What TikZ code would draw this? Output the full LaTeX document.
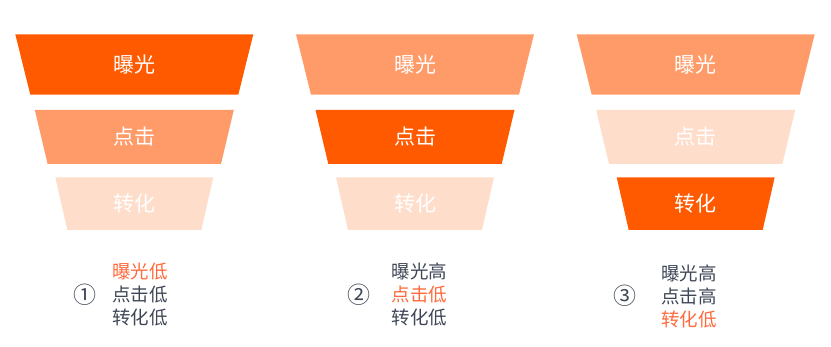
\documentclass[tikz,border=0pt]{standalone}
\usepackage{fontspec}
\newfontfamily\cjk{Noto Sans CJK SC}
\definecolor{deeporange}{HTML}{FF5A00}
\definecolor{midorange}{HTML}{FF9B68}
\definecolor{paleorange}{HTML}{FFDDCB}
\definecolor{hilite}{HTML}{FF6A3C}
\definecolor{darktext}{HTML}{3F4756}

\begin{document}
\begin{tikzpicture}[
		x=1pt, y=-1pt,
		bar/.style={text=white, font=\cjk\fontsize{21}{24}\selectfont},
		note/.style={anchor=west, align=left, text=darktext, inner sep=0pt, font=\cjk\fontsize{18.5}{23}\selectfont},
		num/.style={text=darktext, inner sep=0pt, font=\cjk\fontsize{23}{24}\selectfont}
		]
		\useasboundingbox (0,0) rectangle (831,347);
		
		% Funnels
		\foreach \i/\cx/\ca/\cb/\cc in {1/134.3/deeporange/midorange/paleorange, 2/415/midorange/deeporange/paleorange, 3/695.7/midorange/paleorange/deeporange}{
			\fill[\ca] (\cx-119,34.3) -- (\cx+119,34.3) -- (\cx+104,94.7) -- (\cx-104,94.7) -- cycle;
			\fill[\cb] (\cx-99.5,110) -- (\cx+99.5,110) -- (\cx+86.7,164) -- (\cx-86.7,164) -- cycle;
			\fill[\cc] (\cx-79,177.3) -- (\cx+79,177.3) -- (\cx+67,230) -- (\cx-67,230) -- cycle;
			\node[bar] (expo\i) at (\cx,64.5) {曝光};
			\node[bar] (click\i) at (\cx,137) {点击};
			\node[bar] (conv\i) at (\cx,203.6) {转化};
		}
		
		% Notes
		\node[num] (n1) at (85,294.5) {①};
		\node[note] (t1) at (112,294.5) {\textcolor{hilite}{曝光低}\\点击低\\转化低};
		\node[num] (n2) at (359,294.5) {②};
		\node[note] (t2) at (391.5,294.5) {曝光高\\\textcolor{hilite}{点击低}\\转化低};
		\node[num] (n3) at (624.5,296) {③};
		\node[note] (t3) at (661,296) {曝光高\\点击高\\\textcolor{hilite}{转化低}};
		
	\end{tikzpicture}
\end{document}
